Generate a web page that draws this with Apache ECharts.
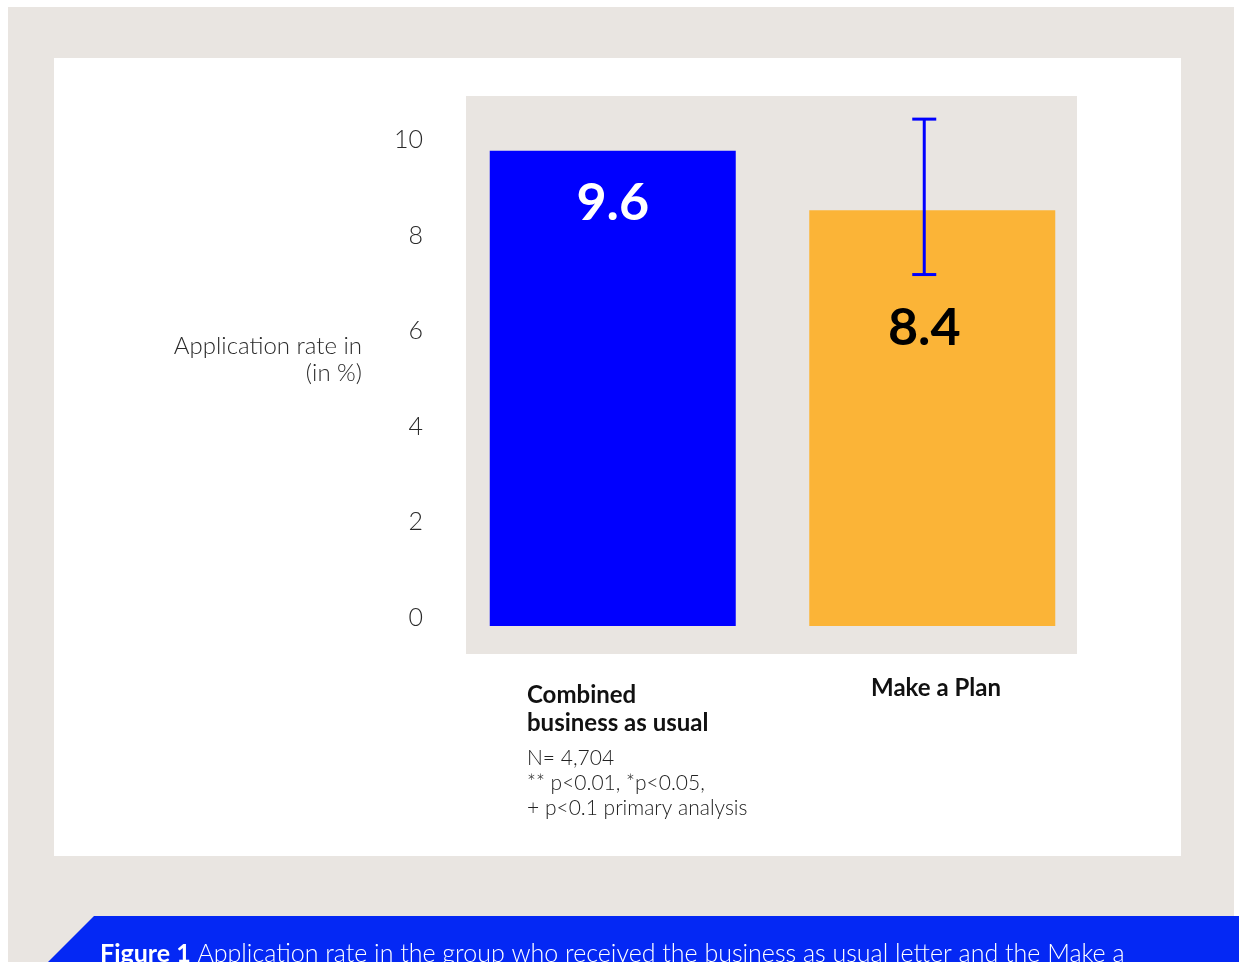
<!DOCTYPE html>
<html>
<head>
<meta charset="utf-8">
<script src="https://cdn.jsdelivr.net/npm/echarts@6/dist/echarts.min.js"></script>
<style>
  html, body { margin: 0; padding: 0; background: #fff; }
  #chart { width: 1239px; height: 962px; }
</style>
</head>
<body>
<div id="chart"></div>
<script>
// Application rate by letter group, with the Make a Plan error bar.
const categories = ["Combined\nbusiness as usual", "Make a Plan"];
const rates = [9.6, 8.4];
const barColors = ["#0000FF", "#FBB437"];
const labelColors = ["#FFFFFF", "#000000"];
const errLow = [null, 7.1];
const errHigh = [null, 10.24];
const tickValues = [0, 2, 4, 6, 8, 10];
const notes = ["N= 4,704", "** p<0.01, *p<0.05,", "+ p<0.1 primary analysis"];
const yName = "Application rate in\n(in %)";
const caption = "Application rate in the group who received the business as usual letter and the Make a";

const FONT = "Lato, 'Noto Sans', sans-serif";
const BEIGE = "#E9E5E1";
const SHIFT = -8; // the orange bar's label + error bar sit a bit left of the bar centre

const chart = echarts.init(document.getElementById("chart"));

chart.setOption({
  animation: false,
  backgroundColor: "#fff",
  grid: { left: 453, right: 147, top: 131, bottom: 336 },
  xAxis: {
    type: "category", data: categories,
    axisLine: { show: false }, axisTick: { show: false }, axisLabel: { show: false },
  },
  yAxis: [
    { type: "value", min: 0, max: 10, show: false, splitLine: { show: false } },
    { // tick labels sit on a slightly different scale than the bars in the original
      type: "value", min: -0.167, max: 10.19, position: "left",
      axisLine: { show: false }, axisTick: { show: false }, splitLine: { show: false },
      axisLabel: {
        customValues: tickValues, margin: 30,
        color: "#2a2a2a", fontSize: 25, fontWeight: 300, fontFamily: FONT,
      },
    },
  ],
  graphic: [
    { type: "rect", z: -10, shape: { x: 8, y: 7, width: 1226, height: 955 }, style: { fill: BEIGE } },
    { type: "rect", z: -9, shape: { x: 54, y: 58, width: 1127, height: 798 }, style: { fill: "#fff" } },
    { type: "rect", z: -8, shape: { x: 466, y: 96, width: 611, height: 558 }, style: { fill: BEIGE } },
    { type: "text", x: 362, y: 333,
      style: { text: yName, textAlign: "right", fill: "#2a2a2a", font: `300 24px ${FONT}`, lineHeight: 27 } },
    { type: "text", x: 527, y: 681,
      style: { text: categories[0], fill: "#111", font: `bold 24px ${FONT}`, lineHeight: 28 } },
    { type: "text", x: 936, y: 674,
      style: { text: categories[1], textAlign: "center", fill: "#111", font: `bold 24px ${FONT}`, lineHeight: 28 } },
    { type: "text", x: 527, y: 746,
      style: { text: notes.join("\n"), fill: "#222", font: `300 21px ${FONT}`, lineHeight: 25 } },
    { type: "polygon", z: 5,
      shape: { points: [[94, 916], [1239, 916], [1239, 962], [48, 962]] }, style: { fill: "#0428F4" } },
    { type: "text", z: 6, x: 100, y: 954,
      style: {
        text: "{b|Figure 1} " + caption, fill: "#fff", font: `300 25px ${FONT}`, textVerticalAlign: "middle",
        rich: { b: { fontWeight: "bold", fontSize: 25, fontFamily: FONT, fill: "#fff" } },
      } },
  ],
  series: [
    {
      type: "bar", yAxisIndex: 0, barWidth: 246,
      data: rates.map((v, i) => ({
        value: v,
        itemStyle: { color: barColors[i] },
        label: {
          show: true, position: "insideTop", distance: i === 0 ? 26 : 92,
          offset: [i === 0 ? 0 : SHIFT, 0],
          color: labelColors[i], fontSize: 52, fontWeight: "bold", fontFamily: FONT,
          formatter: (p) => p.value.toFixed(1),
        },
      })),
    },
    {
      type: "custom", yAxisIndex: 0, z: 10,
      data: errLow.map((lo, i) => [i, lo, errHigh[i]]).filter((d) => d[1] != null),
      renderItem: (params, api) => {
        const hi = api.coord([api.value(0), api.value(2)]);
        const lo = api.coord([api.value(0), api.value(1)]);
        const x = hi[0] + SHIFT, cap = 12;
        const st = { stroke: "#0000FF", lineWidth: 3 };
        return {
          type: "group",
          children: [
            { type: "line", shape: { x1: x, y1: hi[1], x2: x, y2: lo[1] }, style: st },
            { type: "line", shape: { x1: x - cap, y1: hi[1], x2: x + cap, y2: hi[1] }, style: st },
            { type: "line", shape: { x1: x - cap, y1: lo[1], x2: x + cap, y2: lo[1] }, style: st },
          ],
        };
      },
    },
  ],
});
</script>
</body>
</html>
